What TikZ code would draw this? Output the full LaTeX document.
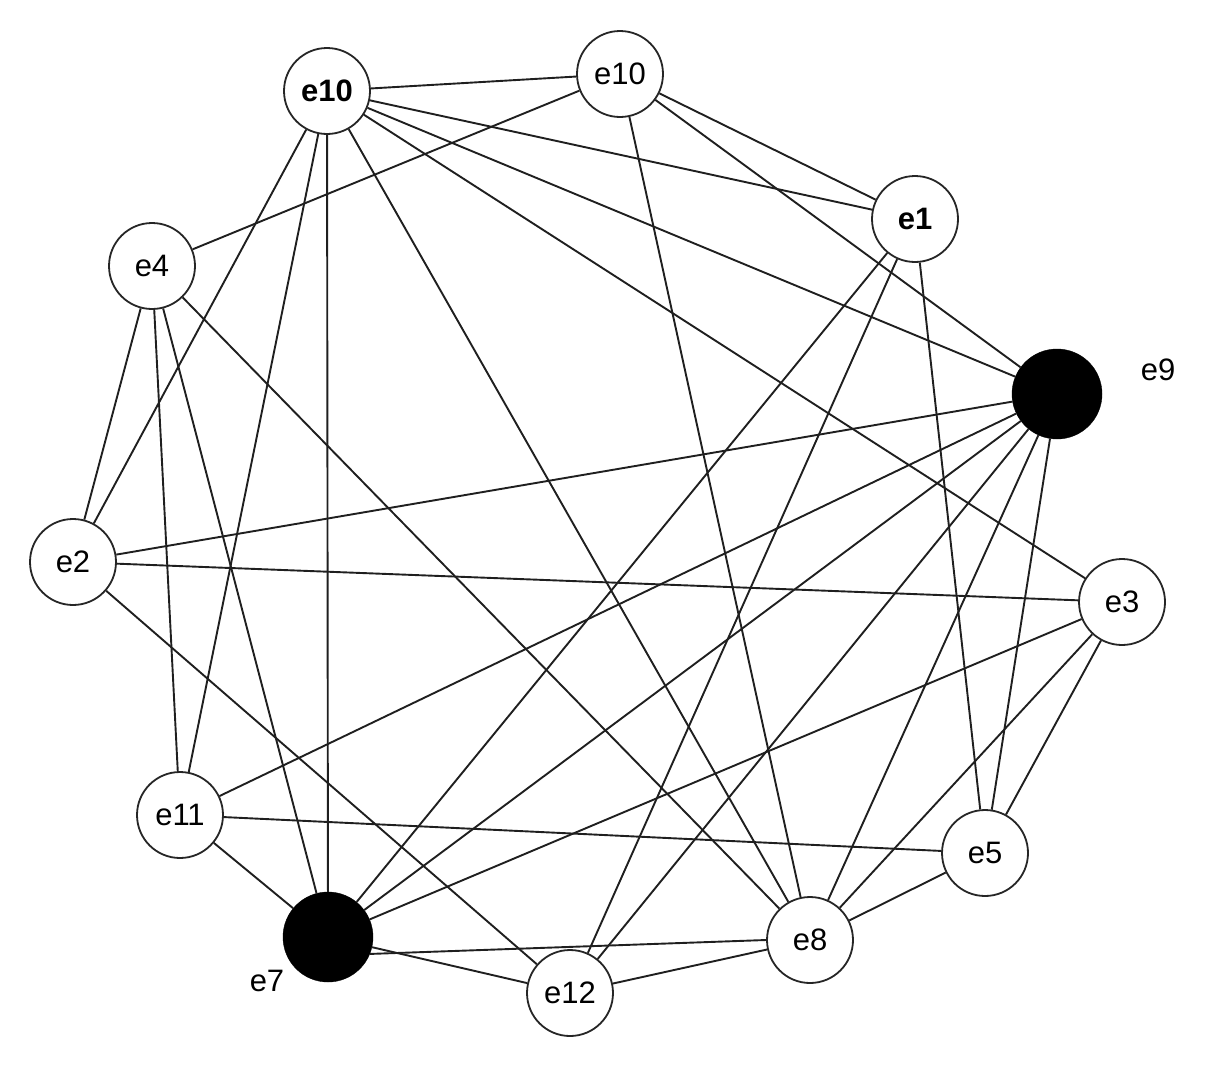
\documentclass[tikz,border=0pt]{standalone}
\usepackage{fontspec}
\setmainfont{Liberation Sans}
\begin{document}
\begin{tikzpicture}[x=1pt,y=-1pt,
  vtx/.style={circle,draw=black!85,line width=1.8pt,fill=white,minimum size=86pt,inner sep=0pt,font=\fontsize{31}{36}\selectfont},
  blk/.style={circle,draw=black,fill=black,minimum size=90pt,inner sep=0pt},
  lbl/.style={font=\fontsize{31}{36}\selectfont},
  edge/.style={draw=black!88,line width=1.9pt}]
\useasboundingbox (0,0) rectangle (1212,1084);
\node[vtx] (e10a) at (327,91) {\textbf{e10}};
\node[vtx] (e10b) at (620,74) {e10};
\node[vtx] (e1) at (915,219) {\textbf{e1}};
\node[vtx] (e4) at (152,266) {e4};
\node[blk] (e9) at (1057,394) {};
\node[lbl] (l9) at (1158,370) {e9};
\node[vtx] (e2) at (73,562) {e2};
\node[vtx] (e3) at (1122,602) {e3};
\node[vtx] (e11) at (180,815) {e11};
\node[vtx] (e5) at (985,853) {e5};
\node[blk] (e7) at (328,937) {};
\node[lbl] (l7) at (267,981) {e7};
\node[vtx] (e8) at (810,940) {e8};
\node[vtx] (e12) at (570,993) {e12};
\foreach \a/\b in {e10a/e10b,e10a/e1,e10a/e9,e10a/e3,e10a/e8,e10a/e7,e10a/e11,e10a/e2,
  e10b/e4,e10b/e1,e10b/e9,e10b/e8,
  e1/e7,e1/e12,e1/e5,
  e4/e2,e4/e11,e4/e7,e4/e8,
  e9/e2,e9/e11,e9/e7,e9/e12,e9/e8,e9/e5,
  e3/e2,e3/e7,e3/e8,e3/e5,
  e11/e5,e11/e7,e7/e12,e12/e2,e12/e8,e8/e5}
  \draw[edge] (\a) -- (\b);
\draw[edge] (e7.-22) -- (e8.west);
\end{tikzpicture}
\end{document}
